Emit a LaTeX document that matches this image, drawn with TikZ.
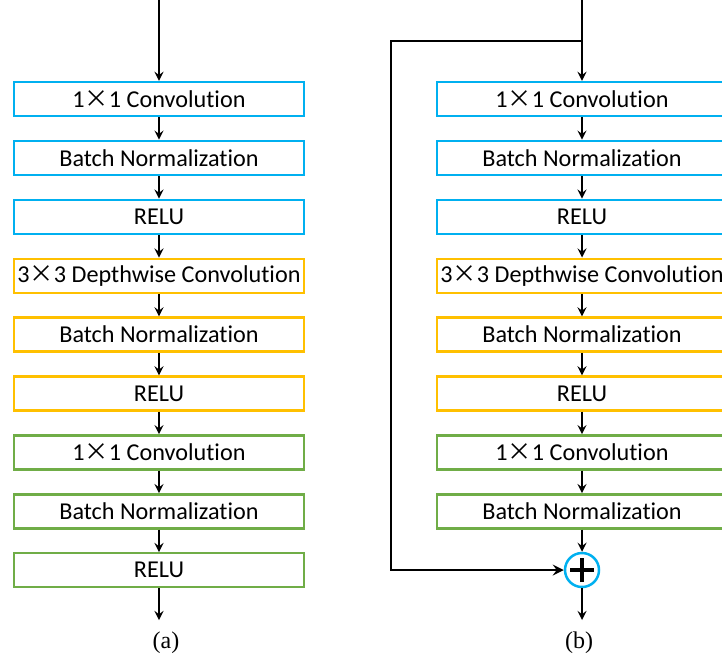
\documentclass[tikz,border=0pt]{standalone}
\usepackage{fontspec}
\setmainfont{Carlito}[Ligatures=NoCommon]
\newfontfamily\cjk{Noto Sans CJK SC}
\newfontfamily\capfont{Liberation Serif}
\usepackage{tikz}
\usetikzlibrary{arrows}
\definecolor{convblue}{HTML}{00B0F0}
\definecolor{dwyellow}{HTML}{FFC000}
\definecolor{pwgreen}{HTML}{70AD47}
\newcommand{\mx}{{\cjk ×}}
\tikzstyle{bluebox} = [rectangle, minimum width=145pt, minimum height=17pt, inner sep=0pt, text centered, draw=convblue, line width=1.2pt, font=\fontsize{12.1}{14}\selectfont]
\tikzstyle{yellowbox} = [bluebox, draw=dwyellow]
\tikzstyle{greenbox} = [bluebox, draw=pwgreen]
\tikzstyle{addnode} = [circle, minimum size=17pt, inner sep=0pt, draw=convblue, line width=1.25pt]
\tikzstyle{arrow} = [line width=1pt,->,>=stealth]
\tikzstyle{skip} = [line width=1.4pt]
\begin{document}
\begin{tikzpicture}[x=0.5pt, y=-0.5pt, node distance=29.45pt]
\useasboundingbox (0,0) rectangle (722,660);
% (a)
\node (conv1) [bluebox] at (159,99) {1\mx1 Convolution};
\node (bn1) [bluebox, below of=conv1] {Batch Normalization};
\node (relu1) [bluebox, below of=bn1] {RELU};
\node (dw1) [yellowbox, below of=relu1] {3\mx3 Depthwise Convolution};
\node (bn2) [yellowbox, below of=dw1] {Batch Normalization};
\node (relu2) [yellowbox, below of=bn2] {RELU};
\node (conv2) [greenbox, below of=relu2] {1\mx1 Convolution};
\node (bn3) [greenbox, below of=conv2] {Batch Normalization};
\node (relu3) [greenbox, below of=bn3] {RELU};
\coordinate (ina) at (159,0);
\coordinate (outa) at (159,620);
\node (capa) at (166,643) {\capfont\fontsize{12}{14}\selectfont (a)};

% (b)
\node (conv4) [bluebox] at (582,99) {1\mx1 Convolution};
\node (bn4) [bluebox, below of=conv4] {Batch Normalization};
\node (relu4) [bluebox, below of=bn4] {RELU};
\node (dw2) [yellowbox, below of=relu4] {3\mx3 Depthwise Convolution};
\node (bn5) [yellowbox, below of=dw2] {Batch Normalization};
\node (relu5) [yellowbox, below of=bn5] {RELU};
\node (conv5) [greenbox, below of=relu5] {1\mx1 Convolution};
\node (bn6) [greenbox, below of=conv5] {Batch Normalization};
\node (add1) [addnode] at (582,570) {};
\coordinate (inb) at (582,0);
\coordinate (split) at (582,41);
\coordinate (corner) at (391,570);
\coordinate (outb) at (582,620);
\node (capb) at (579,643) {\capfont\fontsize{12}{14}\selectfont (b)};

\draw [arrow] (ina) -- (conv1);
\draw [arrow] (conv1) -- (bn1);
\draw [arrow] (bn1) -- (relu1);
\draw [arrow] (relu1) -- (dw1);
\draw [arrow] (dw1) -- (bn2);
\draw [arrow] (bn2) -- (relu2);
\draw [arrow] (relu2) -- (conv2);
\draw [arrow] (conv2) -- (bn3);
\draw [arrow] (bn3) -- (relu3);
\draw [arrow] (relu3) -- (outa);

\draw [line width=1pt] (inb) -- (split);
\draw [arrow] (split) -- (conv4);
\draw [arrow] (conv4) -- (bn4);
\draw [arrow] (bn4) -- (relu4);
\draw [arrow] (relu4) -- (dw2);
\draw [arrow] (dw2) -- (bn5);
\draw [arrow] (bn5) -- (relu5);
\draw [arrow] (relu5) -- (conv5);
\draw [arrow] (conv5) -- (bn6);
\draw [arrow] (bn6) -- (add1);
\draw [arrow, skip] (split) -| (corner) -- (add1);
\draw [arrow] (add1) -- (outb);
\draw [line width=2pt] ([xshift=-6pt]add1.center) -- ([xshift=6pt]add1.center);
\draw [line width=2pt] ([yshift=-6pt]add1.center) -- ([yshift=6pt]add1.center);
\end{tikzpicture}
\end{document}
